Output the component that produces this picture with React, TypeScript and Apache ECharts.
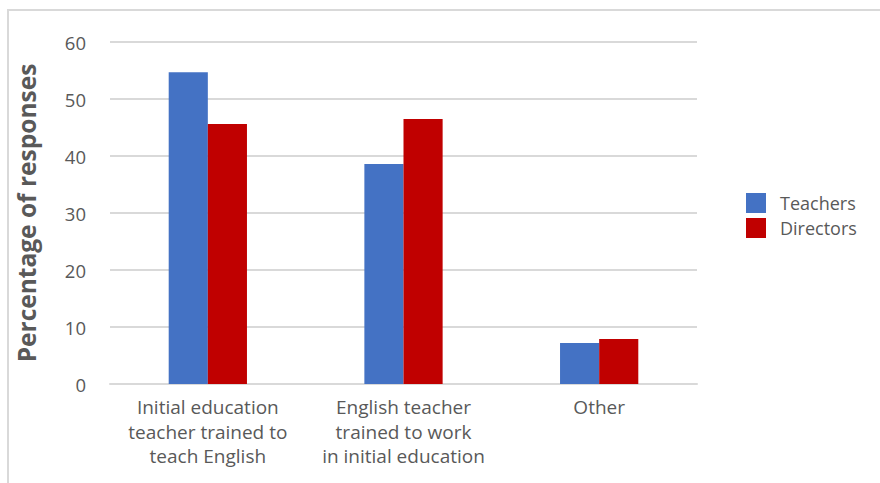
import React, { useEffect, useRef } from "react";
import * as echarts from "echarts";

const categories = [
  "Initial education\nteacher trained to\nteach English",
  "English teacher\ntrained to work\nin initial education",
  "Other",
];
const teachers = [54.7, 38.6, 7.2];
const directors = [45.6, 46.5, 7.9];
const seriesNames = ["Teachers", "Directors"];
const yTicks = { min: 0, max: 60, interval: 10 };

const FONT = "'Open Sans', 'Noto Sans', sans-serif";
const TXT = "#595959";

export default function App() {
  const ref = useRef<HTMLDivElement>(null);
  useEffect(() => {
    const chart = echarts.init(ref.current!, null, { renderer: "svg" });
    chart.setOption({
      animation: false,
      textStyle: { fontFamily: FONT },
      graphic: [
        {
          type: "rect",
          shape: { x: 8, y: 10, width: 900, height: 500 },
          style: { fill: "none", stroke: "#d9d9d9", lineWidth: 2 },
          silent: true,
        },
      ],
      grid: { left: 110, right: 183, top: 42, bottom: 99 },
      legend: {
        orient: "vertical",
        left: 741,
        top: 188,
        itemWidth: 20,
        itemHeight: 20,
        itemGap: 5,
        icon: "rect",
        textStyle: {
          color: TXT,
          fontSize: 18,
          lineHeight: 20,
          fontFamily: FONT,
          padding: [0, 0, 0, 9],
        },
        data: seriesNames,
      },
      xAxis: {
        type: "category",
        data: categories,
        axisLine: { lineStyle: { color: "#d9d9d9", width: 2 } },
        axisTick: { show: false },
        axisLabel: {
          color: TXT,
          fontSize: 19,
          lineHeight: 24.5,
          margin: 11,
          fontFamily: FONT,
          interval: 0,
        },
      },
      yAxis: {
        type: "value",
        min: yTicks.min,
        max: yTicks.max,
        interval: yTicks.interval,
        name: "Percentage of responses",
        nameLocation: "middle",
        nameGap: 71,
        nameTextStyle: { color: TXT, fontSize: 24.5, fontWeight: "bold", fontFamily: FONT },
        axisLine: { show: false },
        axisTick: { show: false },
        axisLabel: { color: TXT, fontSize: 18.5, margin: 24, fontFamily: FONT },
        splitLine: { lineStyle: { color: "#d9d9d9", width: 2 } },
      },
      series: [
        {
          name: seriesNames[0],
          type: "bar",
          data: teachers,
          itemStyle: { color: "#4472c4" },
          barGap: "0%",
          barCategoryGap: "60%",
        },
        {
          name: seriesNames[1],
          type: "bar",
          data: directors,
          itemStyle: { color: "#c00000" },
          barGap: "0%",
          barCategoryGap: "60%",
        },
      ],
    });
    return () => chart.dispose();
  }, []);
  return (
    <div
      ref={ref}
      style={{ position: "fixed", left: 0, top: 0, width: 880, height: 483, background: "#fff" }}
    />
  );
}
